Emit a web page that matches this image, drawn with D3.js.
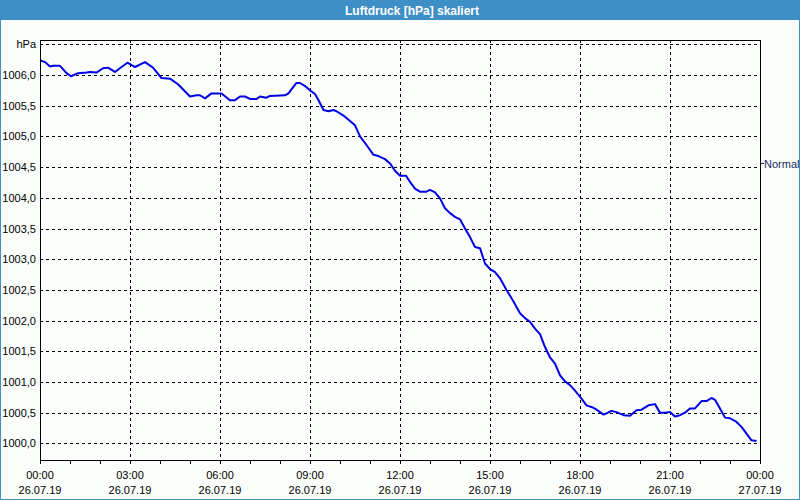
<!DOCTYPE html>
<html><head><meta charset="utf-8">
<script src="https://cdn.jsdelivr.net/npm/d3@7"></script>
<style>
html,body{margin:0;padding:0;background:#fcfefc;}
svg{display:block;}
text{font-family:"Liberation Sans",Arial,sans-serif;}
</style></head>
<body>
<script>
const title = "Luftdruck [hPa] skaliert";
const unitLabel = "hPa";
const seriesName = "Normal";
const times = ["00:00","00:10","00:20","00:26","00:40","00:53","01:02","01:16","01:33","01:40","01:53","02:06","02:16","02:30","02:43","02:55","03:10","03:30","03:46","04:03","04:20","04:36","05:00","05:13","05:20","05:30","05:43","06:03","06:20","06:30","06:40","06:50","07:00","07:13","07:20","07:33","07:40","08:10","08:17","08:27","08:33","08:40","08:50","09:00","09:10","09:17","09:27","09:37","09:47","09:53","10:07","10:20","10:30","10:40","10:53","11:07","11:17","11:30","11:40","11:50","12:00","12:12","12:20","12:30","12:40","12:53","13:00","13:10","13:20","13:30","13:40","13:50","14:00","14:10","14:20","14:30","14:40","14:50","15:00","15:10","15:20","15:33","15:47","16:00","16:10","16:20","16:30","16:40","16:50","17:00","17:10","17:20","17:30","17:40","17:50","18:03","18:13","18:27","18:33","18:47","18:53","19:03","19:13","19:27","19:40","19:53","20:03","20:17","20:30","20:40","20:50","21:00","21:10","21:20","21:30","21:40","21:50","22:03","22:13","22:23","22:30","22:40","22:50","23:00","23:13","23:23","23:33","23:43","23:53"];
const values = [1006.24,1006.21,1006.14,1006.15,1006.15,1006.03,1005.98,1006.03,1006.04,1006.05,1006.04,1006.11,1006.12,1006.05,1006.13,1006.20,1006.13,1006.21,1006.12,1005.95,1005.94,1005.85,1005.65,1005.67,1005.67,1005.62,1005.70,1005.70,1005.59,1005.59,1005.65,1005.65,1005.61,1005.61,1005.65,1005.63,1005.66,1005.67,1005.70,1005.81,1005.87,1005.87,1005.82,1005.75,1005.69,1005.59,1005.43,1005.41,1005.43,1005.41,1005.34,1005.25,1005.18,1005.00,1004.86,1004.70,1004.68,1004.63,1004.56,1004.44,1004.36,1004.36,1004.26,1004.15,1004.10,1004.10,1004.13,1004.09,1003.99,1003.83,1003.75,1003.69,1003.65,1003.50,1003.36,1003.20,1003.18,1002.93,1002.84,1002.79,1002.69,1002.50,1002.31,1002.12,1002.04,1001.98,1001.87,1001.78,1001.57,1001.40,1001.30,1001.11,1001.01,1000.95,1000.86,1000.73,1000.62,1000.58,1000.55,1000.47,1000.49,1000.53,1000.51,1000.46,1000.45,1000.54,1000.55,1000.62,1000.64,1000.50,1000.50,1000.51,1000.44,1000.46,1000.50,1000.57,1000.57,1000.69,1000.69,1000.74,1000.71,1000.57,1000.42,1000.41,1000.35,1000.27,1000.16,1000.05,1000.04];
const yTicks = [1000.0,1000.5,1001.0,1001.5,1002.0,1002.5,1003.0,1003.5,1004.0,1004.5,1005.0,1005.5,1006.0,1006.5];
const xTickTimes = ["2019-07-26 00:00","2019-07-26 03:00","2019-07-26 06:00","2019-07-26 09:00","2019-07-26 12:00","2019-07-26 15:00","2019-07-26 18:00","2019-07-26 21:00","2019-07-27 00:00"];
const dayStart = "2019-07-26 00:00";
const dayEnd = "2019-07-27 00:00";

const W = 800, H = 500;
const L = 40, R = 760, T = 40, B = 460;
const parseDT = d3.timeParse("%Y-%m-%d %H:%M");
const data = times.map((t,i)=>({t:parseDT("2019-07-26 "+t), v:values[i]}));

const svg = d3.select("body").append("svg").attr("width",W).attr("height",H);
svg.append("rect").attr("width",W).attr("height",H).attr("fill","#fcfefc");

// title bar
svg.append("rect").attr("x",0).attr("y",0).attr("width",W).attr("height",20).attr("fill","#3d8fc6");
svg.append("text").attr("x",412).attr("y",14.5).attr("text-anchor","middle")
  .attr("fill","#fff").attr("font-weight","bold").attr("font-size",12).text(title);
// window border
svg.append("path").attr("d",`M0.5,20 V499.5 H799.5 V20`).attr("fill","none").attr("stroke","#3d8fc6");

const x = d3.scaleTime().domain([parseDT(dayStart), parseDT(dayEnd)]).range([L,R]);
const y = d3.scaleLinear().domain([999.73,1006.57]).range([B,T]);

// grid
const grid = svg.append("g").attr("stroke","#000").attr("stroke-dasharray","3,3").attr("shape-rendering","crispEdges");
yTicks.forEach(v=>{
  const yy = Math.round(y(v))+0.5;
  grid.append("line").attr("x1",L).attr("x2",R).attr("y1",yy).attr("y2",yy);
});
xTickTimes.slice(1,-1).forEach(s=>{
  const xx = Math.round(x(parseDT(s)))+0.5;
  grid.append("line").attr("x1",xx).attr("x2",xx).attr("y1",T).attr("y2",B);
});

// y labels
const fmt = v => d3.format(".1f")(v).replace(".",",");
yTicks.forEach((v,i)=>{
  svg.append("text").attr("x",36).attr("y",Math.round(y(v))+4).attr("text-anchor","end")
    .attr("font-size",11).attr("fill","#000").text(i===yTicks.length-1 ? unitLabel : fmt(v));
});

// line
svg.append("path").datum(data).attr("fill","none").attr("stroke","#0000e6").attr("stroke-width",2)
  .attr("stroke-linejoin","round")
  .attr("d",d3.line().x(d=>x(d.t)).y(d=>y(d.v)));

// frame
svg.append("rect").attr("x",L+0.5).attr("y",T+0.5).attr("width",R-L).attr("height",B-T)
  .attr("fill","none").attr("stroke","#000");

// x axis ticks
const hourTicks = d3.timeHour.every(1).range(parseDT(dayStart), d3.timeMinute.offset(parseDT(dayEnd),1));
hourTicks.forEach(d=>{
  const xx = Math.round(x(d))+0.5;
  svg.append("line").attr("x1",xx).attr("x2",xx).attr("y1",B).attr("y2",B+4).attr("stroke","#000");
});
const fT = d3.timeFormat("%H:%M"), fD = d3.timeFormat("%d.%m.%y");
xTickTimes.forEach(s=>{
  const d = parseDT(s), xx = x(d);
  svg.append("text").attr("x",xx).attr("y",479).attr("text-anchor","middle").attr("font-size",11).text(fT(d));
  svg.append("text").attr("x",xx).attr("y",494).attr("text-anchor","middle").attr("font-size",11).text(fD(d));
});

// legend
svg.append("line").attr("x1",761).attr("x2",764).attr("y1",163.5).attr("y2",163.5).attr("stroke","#1a2a66");
svg.append("text").attr("x",764).attr("y",168).attr("font-size",11).attr("fill","#1a2a66").text(seriesName);
</script>
</body></html>
